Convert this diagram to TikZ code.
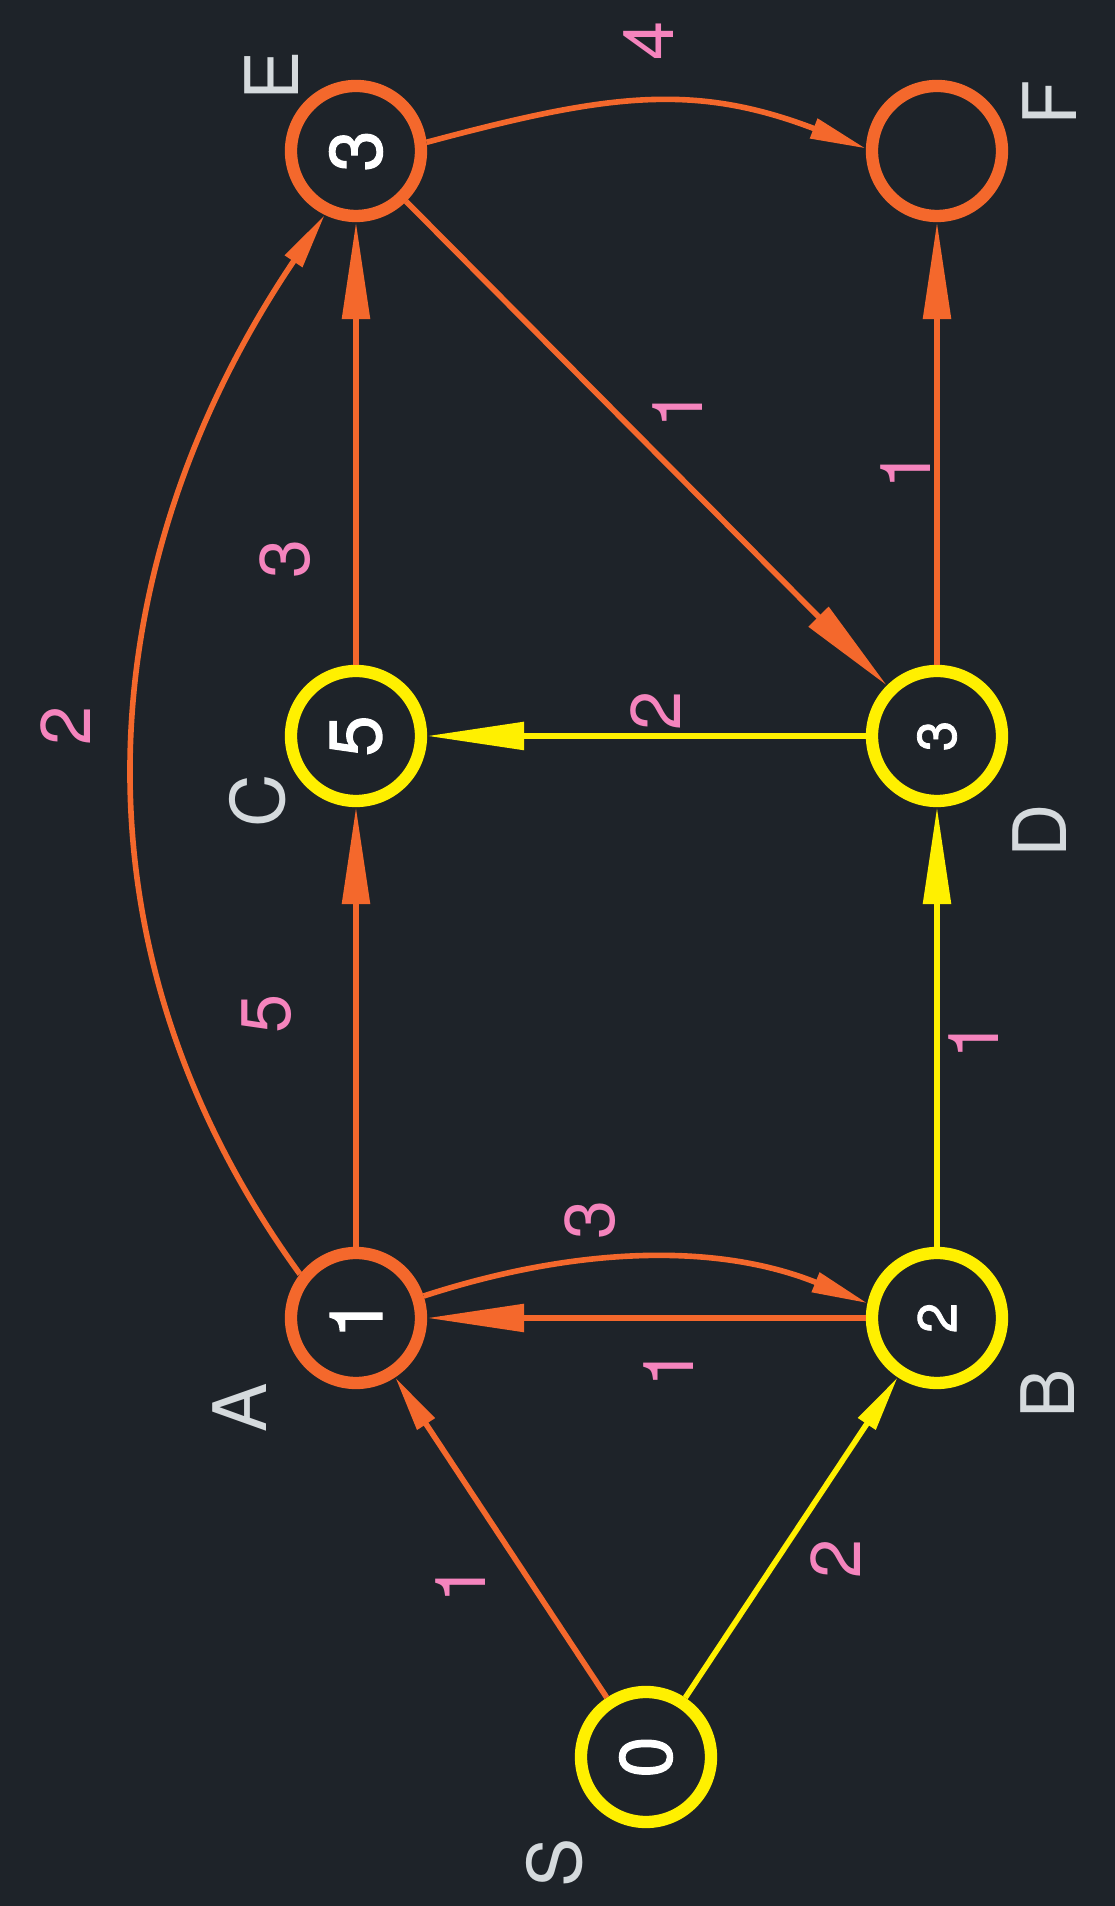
\documentclass[tikz,border=0pt]{standalone}
\usepackage{fontspec}
\setmainfont{TeX Gyre Heros}
\newfontfamily\vtxfont[FakeBold=1.5]{TeX Gyre Heros}
\usetikzlibrary{arrows.meta,positioning}

\definecolor{board}{HTML}{1E2329}
\definecolor{hotc}{HTML}{F4682C}
\definecolor{litc}{HTML}{FFF000}
\definecolor{wpink}{HTML}{F584BD}
\definecolor{tagc}{HTML}{D5DADD}

\tikzset{
  vtx/.style={circle, line width=3.5pt, minimum size=13mm, inner sep=0pt, text=white,
    font=\vtxfont\fontsize{21}{25}\selectfont},
  hot/.style={vtx, draw=hotc},
  lit/.style={vtx, draw=litc},
  small/.style={font=\vtxfont\fontsize{15.5}{18}\selectfont},
  tag/.style={text=tagc, inner sep=0pt, font=\fontsize{21}{25}\selectfont},
  weight/.style={text=wpink, inner sep=0pt, font=\fontsize{20}{24}\selectfont},
  bigtip/.style={-{Triangle[length=9.7mm,width=2.7mm]}},
  smalltip/.style={-{Triangle[length=5.6mm,width=2mm]}},
  hotline/.style={draw=hotc},
  litline/.style={draw=litc},
}

\begin{document}
\begin{tikzpicture}[rotate=90, transform shape, line width=1.6pt]
    \fill[board] (0,0) rectangle (19.06,11.15);
    \useasboundingbox (0,0) rectangle (19.06,11.15);

    \node[lit] (S) at (1.49, 4.69) {0};
    \node[hot] (A) at (5.88, 7.59) {1};
    \node[lit, small] (B) at (5.88, 1.78) {2};
    \node[lit] (C) at (11.70, 7.59) {5};
    \node[lit, small] (D) at (11.70, 1.78) {3};
    \node[hot] (E) at (17.55, 7.59) {3};
    \node[hot] (F) at (17.55, 1.78) {};

    \node[tag] (S-tag) at (0.43, 5.60) {S};
    \node[tag] (A-tag) at (4.98, 8.75) {A};
    \node[tag] (B-tag) at (5.12, 0.67) {B};
    \node[tag] (C-tag) at (11.05, 8.57) {C};
    \node[tag] (D-tag) at (10.75, 0.75) {D};
    \node[tag] (E-tag) at (18.30, 8.43) {E};
    \node[tag] (F-tag) at (18.03, 0.65) {F};

    \path
    (S) edge[hotline, smalltip] node[weight, shift={(-0.46,0.40)}] {1} (A)
        edge[litline, smalltip] node[weight, shift={(-0.21,-0.445)}] {2} (B)
    (A.-72) edge[hotline, smalltip, out=-72, in=68, looseness=.93] node[weight, pos=.37, right=1.8mm] {3} (B.78)
    (A.52) edge[hotline, smalltip, out=36, in=146, looseness=1] node[weight, pos=.52, above=4.2mm] {2} (E.154)
    (A) edge[hotline, bigtip] node[weight, pos=.53, above=6.2mm] {5} (C)
    (B) edge[hotline, bigtip] node[weight, pos=.45, left=2.8mm] {1} (A)
        edge[litline, bigtip] node[weight, pos=.47, below=.9mm] {1} (D)
    (C) edge[hotline, bigtip] node[weight, pos=.24, above=4.3mm] {3} (E)
    (D) edge[litline, bigtip] node[weight, pos=.48, right=.3mm] {2} (C)
        edge[hotline, bigtip] node[weight, pos=.44, above=.4mm] {1} (F)
    (E) edge[hotline, bigtip] node[weight, shift={(.345,-.31)}] {1} (D)
    (E.-83) edge[hotline, smalltip, out=-75, in=69, looseness=1.08] node[weight, right=3.9mm] {4} (F.88);
\end{tikzpicture}
\end{document}
